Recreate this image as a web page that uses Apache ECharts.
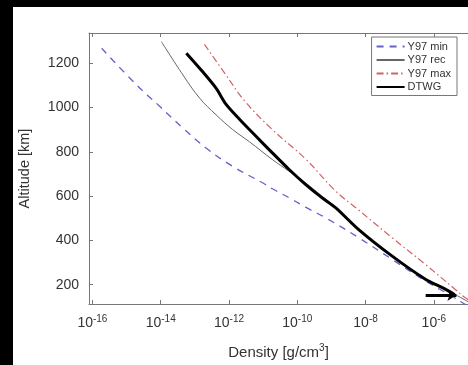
<!DOCTYPE html>
<html><head><meta charset="utf-8">
<script src="https://cdn.jsdelivr.net/npm/echarts@6/dist/echarts.min.js"></script>
<style>html,body{margin:0;padding:0;background:#000;}#c{width:468px;height:365px;}</style>
</head><body><div id="c"></div>
<script>
// log10 of density [g/cm^3] and altitude [km]
var minLogDensity = [-15.73, -14.71, -14.03, -13.35, -12.67, -11.9, -11.02, -10.73, -10.15, -9.76, -9.18, -8.21, -7.23, -6.26, -5.49, -5.1, -4.9];
var minAltitude   = [1267, 1102, 1005, 907, 817, 735, 660, 633, 585, 550, 503, 413, 315, 218, 150, 113, 98];
var recLogDensity = [-13.98, -13.35, -12.86, -12.38, -11.89, -11.4, -10.73, -10.24, -9.76, -9.28, -8.88, -8.21, -7.23, -6.26, -5.39, -4.9];
var recAltitude   = [1297, 1147, 1042, 967, 900, 845, 765, 712, 660, 600, 550, 452, 332, 228, 157, 115];
var maxLogDensity = [-12.72, -12.09, -11.55, -10.73, -9.76, -8.88, -8.21, -7.23, -6.26, -5.39, -5.1, -4.9];
var maxAltitude   = [1285, 1147, 1031, 900, 768, 623, 538, 413, 293, 181, 143, 125];
var dtwgLogDensity = [-13.25, -12.86, -12.38, -12.09, -11.7, -11.21, -10.73, -10.24, -9.76, -9.28, -8.88, -8.21, -7.23, -6.26, -5.68, -5.39];
var dtwgAltitude   = [1245, 1177, 1087, 1015, 948, 870, 795, 720, 653, 593, 548, 450, 330, 226, 181, 155];
var arrowLogDensity = [-6.24, -5.34];
var arrowAltitude = [154, 154];
var xTicks = [-16, -14, -12, -10, -8, -6];
var yTicks = [200, 400, 600, 800, 1000, 1200];
var seriesNames = ['Y97 min', 'Y97 rec', 'Y97 max', 'DTWG'];

function pairs(xs, ys){ return xs.map(function(x,i){ return [x, ys[i]]; }); }

var chart = echarts.init(document.getElementById('c'));
var font = 'Liberation Sans, Arial, sans-serif';
chart.setOption({
  backgroundColor: '#000',
  animation: false,
  graphic: [{ type: 'rect', shape: { x: 13, y: 7, width: 460, height: 360 }, style: { fill: '#fff' }, z: -10 }],
  grid: { left: 89, top: 33, right: -2, bottom: 60 },
  legend: {
    right: 11, top: 37, orient: 'vertical', itemGap: 2.5, itemWidth: 28, itemHeight: 10,
    backgroundColor: '#fff', borderColor: '#777', borderWidth: 1, padding: [4, 6, 3, 4], borderRadius: 0,
    itemStyle: { color: 'rgba(0,0,0,0)', borderColor: 'rgba(0,0,0,0)', borderWidth: 0, opacity: 0 },
    textStyle: { fontFamily: font, fontSize: 11, color: '#333', padding: [0, 0, 0, -2] },
    data: seriesNames
  },
  xAxis: [{
    type: 'value', min: -16.1, max: -5,
    name: 'Density [g/cm{s|3}]', nameLocation: 'middle', nameGap: 39,
    nameTextStyle: { fontFamily: font, fontSize: 15, color: '#333', rich: { s: { fontSize: 10, padding: [0, 0, 9, 0], fontFamily: font, color: '#333' } } },
    axisLine: { show: true, lineStyle: { color: '#777' } },
    axisTick: { show: true, inside: true, length: 4, lineStyle: { color: '#777' }, customValues: xTicks },
    splitLine: { show: false },
    axisLabel: {
      customValues: xTicks, margin: 10, fontFamily: font, fontSize: 14, color: '#333',
      formatter: function(v){ return '{b|10}{s|' + v + '}'; },
      rich: { b: { fontSize: 14, fontFamily: font, color: '#333' }, s: { fontSize: 10, fontFamily: font, color: '#333', padding: [0, 0, 9, 0] } }
    }
  }, {
    type: 'value', min: -16.1, max: -5, position: 'top',
    axisLine: { show: true, lineStyle: { color: '#777' } },
    axisTick: { show: true, inside: true, length: 4, lineStyle: { color: '#777' }, customValues: xTicks },
    axisLabel: { show: false }, splitLine: { show: false }
  }],
  yAxis: {
    type: 'value', min: 113, max: 1336,
    name: 'Altitude [km]', nameLocation: 'middle', nameGap: 57, nameRotate: 90,
    nameTextStyle: { fontFamily: font, fontSize: 14.5, color: '#333' },
    axisLine: { show: true, lineStyle: { color: '#777' } },
    axisTick: { show: true, inside: true, length: 4, lineStyle: { color: '#777' }, customValues: yTicks },
    splitLine: { show: false },
    axisLabel: { customValues: yTicks, margin: 10, fontFamily: font, fontSize: 14, color: '#333', formatter: function(v){ return String(v); } }
  },
  series: [{
    name: seriesNames[0], type: 'line', symbol: 'none', smooth: 0.4,
    data: pairs(minLogDensity, minAltitude),
    lineStyle: { color: '#6262cc', width: 1.3, type: [7, 6] }, itemStyle: { color: '#6262cc' }
  }, {
    name: seriesNames[1], type: 'line', symbol: 'none', smooth: 0.4,
    data: pairs(recLogDensity, recAltitude),
    lineStyle: { color: '#666', width: 1 }, itemStyle: { color: '#666' }
  }, {
    name: seriesNames[2], type: 'line', symbol: 'none', smooth: 0.4,
    data: pairs(maxLogDensity, maxAltitude),
    lineStyle: { color: '#d06464', width: 1.2, type: [7, 3, 1.5, 3] }, itemStyle: { color: '#d06464' }
  }, {
    name: seriesNames[3], type: 'line', symbol: 'none', smooth: 0.3,
    data: pairs(dtwgLogDensity, dtwgAltitude),
    lineStyle: { color: '#000', width: 3 }, itemStyle: { color: '#000' },
    markLine: {
      silent: true, symbol: ['none', 'arrow'], symbolSize: [9, 9],
      label: { show: false }, lineStyle: { color: '#000', width: 3, type: 'solid' },
      data: [[{ coord: [arrowLogDensity[0], arrowAltitude[0]] }, { coord: [arrowLogDensity[1], arrowAltitude[1]] }]]
    }
  }]
});
</script></body></html>
